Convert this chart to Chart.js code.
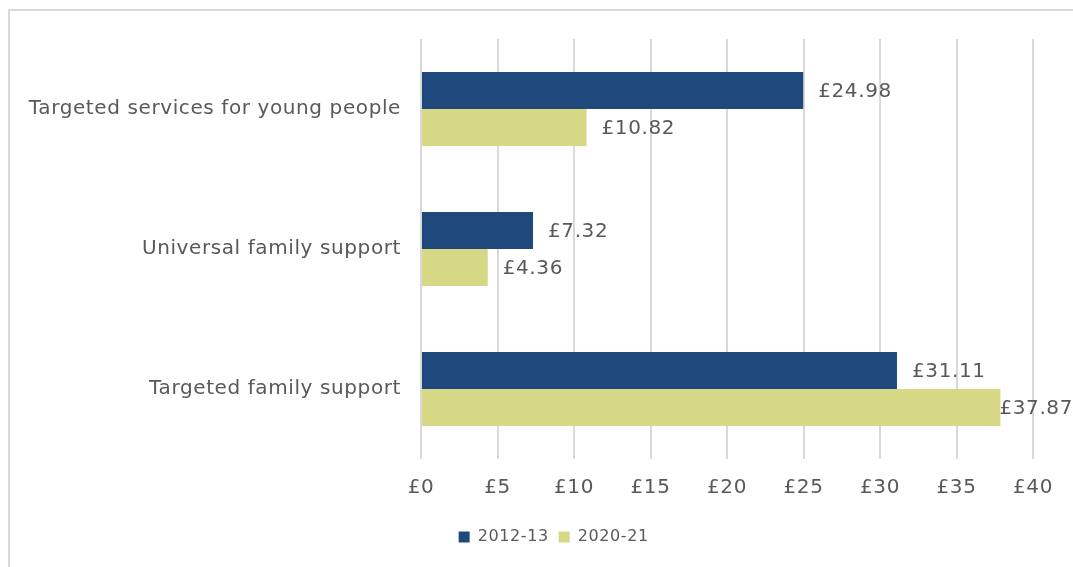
<!DOCTYPE html>
<html>
<head>
<meta charset="utf-8">
<script src="https://cdn.jsdelivr.net/npm/chart.js@4.4.1/dist/chart.umd.min.js"></script>
<style>
  html, body { margin: 0; padding: 0; background: #fff; overflow: hidden; width: 1073px; height: 567px; }
  #frame {
    position: absolute; left: 8px; top: 9px; width: 1200px; height: 700px;
    border-left: 2px solid #d9d9d9; border-top: 2px solid #d9d9d9;
  }
  #wrap { position: absolute; left: 0; top: 0; width: 1073px; height: 567px; }
</style>
</head>
<body>
<div id="frame"></div>
<div id="wrap"><canvas id="spend"></canvas></div>
<script>
const categories = ['Targeted services for young people', 'Universal family support', 'Targeted family support'];
const spend2012 = [24.98, 7.32, 31.11];
const spend2020 = [10.82, 4.36, 37.87];
const seriesNames = ['2012-13', '2020-21'];

const textColor = '#595959';
const fontFamily = "'DejaVu Sans', sans-serif";

// slightly wider lettering for every text drawn on the canvas
const spacing = {
    id: 'spacing',
    beforeDraw(chart) {
        chart.ctx.letterSpacing = '0.6px';
    }
};

// nudge the legend a little right of the canvas centre
const legendShift = {
    id: 'legendShift',
    afterLayout(chart) {
        chart.legend.left += 66;
    }
};

// write the £ value just past the end of each bar, pulled back if it would run off the edge
const barValues = {
    id: 'barValues',
    afterDatasetsDraw(chart) {
        let ctx = chart.ctx;
        ctx.save();
        ctx.font = '20px ' + fontFamily;
        ctx.fillStyle = textColor;
        ctx.textAlign = 'left';
        ctx.textBaseline = 'middle';
        chart.data.datasets.forEach((ds, i) => {
            chart.getDatasetMeta(i).data.forEach((bar, j) => {
                let txt = '£' + ds.data[j].toFixed(2);
                let w = ctx.measureText(txt).width;
                let x = Math.min(bar.x + 15, chart.width - w);
                ctx.fillText(txt, x, bar.y + 1);
            });
        });
        ctx.restore();
    }
};

let ctx = document.getElementById('spend').getContext('2d');
let chart = new Chart(ctx, {
    type: 'bar',
    data: {
        labels: categories,
        datasets: [{
            label: seriesNames[0],
            backgroundColor: '#1f497d',
            data: spend2012,
        }, {
            label: seriesNames[1],
            backgroundColor: '#d7d886',
            data: spend2020,
        }]
    },
    plugins: [spacing, legendShift, barValues],
    options: {
        indexAxis: 'y',
        responsive: true,
        maintainAspectRatio: false,
        animation: false,
        categoryPercentage: 0.53,
        barPercentage: 1,
        layout: { padding: { top: 39, right: 40, bottom: 12, left: 0 } },
        scales: {
            x: {
                min: 0,
                max: 40,
                border: { display: false },
                grid: { color: '#d9d9d9', lineWidth: 2, drawTicks: false },
                afterFit: (s) => { s.height = 60; },
                ticks: {
                    stepSize: 5,
                    padding: 17,
                    color: textColor,
                    font: { family: fontFamily, size: 20 },
                    callback: (value) => '£' + value
                }
            },
            y: {
                border: { display: false },
                grid: { display: false, drawTicks: false },
                afterFit: (s) => { s.width = 421; },
                ticks: {
                    padding: 20,
                    color: textColor,
                    font: { family: fontFamily, size: 20 }
                }
            }
        },
        plugins: {
            legend: {
                position: 'bottom',
                labels: {
                    boxWidth: 11,
                    boxHeight: 11,
                    padding: 10,
                    color: textColor,
                    font: { family: fontFamily, size: 16 }
                }
            },
            tooltip: { enabled: false }
        }
    }
});
</script>
</body>
</html>
